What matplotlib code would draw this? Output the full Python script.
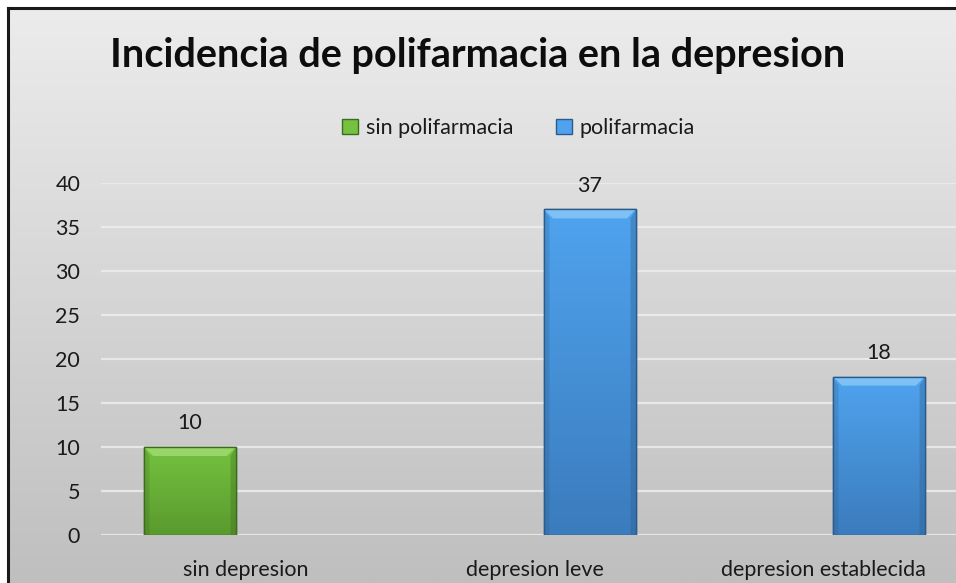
import numpy as np
import matplotlib
matplotlib.use("Agg")
import matplotlib.pyplot as plt
from matplotlib.patches import Patch, Polygon
from matplotlib.lines import Line2D
from matplotlib.colors import LinearSegmentedColormap

# ---- data ----
categories = ["sin depresion", "depresion leve", "depresion establecida"]
series_names = ["sin polifarmacia", "polifarmacia"]
sin_polifarmacia = [10, 0, 0]
polifarmacia = [0, 37, 18]
yticks = [0, 5, 10, 15, 20, 25, 30, 35, 40]
title = "Incidencia de polifarmacia en la depresion"

FONT = ["Lato", "DejaVu Sans"]
plt.rcParams["font.family"] = FONT
FS = 15.5

W, H, DPI = 956, 583, 100
fig = plt.figure(figsize=(W / DPI, H / DPI), dpi=DPI)
fig.patch.set_facecolor("white")

# background gradient (chart area)
bg = fig.add_axes([0, 0, 1, 1], zorder=0)
bg.axis("off")
grad = np.linspace(0, 1, 256).reshape(-1, 1)
bgcmap = LinearSegmentedColormap.from_list("bg", ["#ececec", "#bfbfbf"])
bx0, by1 = 8 / W, 1 - 8 / H
bg.imshow(grad, aspect="auto", cmap=bgcmap, extent=[bx0, 1, 0, by1],
          transform=bg.transAxes)
bg.set_xlim(0, 1); bg.set_ylim(0, 1)
# border (top & left visible, right/bottom cropped)
fig.add_artist(Line2D([bx0, 1], [by1, by1], color="#1a1a1a", lw=2.2,
                      transform=fig.transFigure, zorder=5))
fig.add_artist(Line2D([bx0, bx0], [0, by1], color="#1a1a1a", lw=2.2,
                      transform=fig.transFigure, zorder=5))

# plot axes
left, right_px = 101, 968
ax = fig.add_axes([left / W, 48 / H, (right_px - left) / W, 352 / H], zorder=2)
ax.patch.set_alpha(0)
ax.set_xlim(-0.5, len(categories) - 0.5)
ax.set_ylim(0, 40)
for s in ax.spines.values():
    s.set_visible(False)
ax.set_yticks(yticks)
ax.set_yticklabels([str(v) for v in yticks])
ax.yaxis.grid(True, color="#ededed", lw=1.6, alpha=0.85)
ax.set_axisbelow(True)
ax.set_xticks(range(len(categories)))
ax.set_xticklabels(categories)
ax.tick_params(axis="both", length=0, labelsize=FS, colors="#1a1a1a")
ax.tick_params(axis="y", pad=15)
ax.tick_params(axis="x", pad=18)

bw = 0.318
off = 0.192
x = np.arange(len(categories))

styles = [
    dict(top="#74c23f", bot="#5a9a2e", edge="#3d6b1f", hi="#a3dc74"),
    dict(top="#4fa3ee", bot="#3b7cbd", edge="#2c5b8a", hi="#8ccaf7"),
]

fig.canvas.draw()
inv = ax.transData.inverted()
p0 = inv.transform((0, 0))
p1 = inv.transform((9, 9))
dxb, dyb = p1[0] - p0[0], p1[1] - p0[1]

for si, (vals, st) in enumerate(zip([sin_polifarmacia, polifarmacia], styles)):
    xs = x + (-off if si == 0 else off)
    for xi, v in zip(xs, vals):
        if not v:
            continue
        rect = ax.bar(xi, v, width=bw, color=st["bot"], edgecolor=st["edge"],
                      linewidth=1.0, zorder=3)[0]
        cm = LinearSegmentedColormap.from_list("g", [st["bot"], st["top"]])
        im = ax.imshow(np.linspace(0, 1, 128).reshape(-1, 1), cmap=cm, aspect="auto",
                       extent=[xi - bw / 2, xi + bw / 2, 0, v], origin="lower",
                       zorder=3.1)
        im.set_clip_path(rect)
        # top bevel highlight
        l, r = xi - bw / 2, xi + bw / 2
        ax.add_patch(Polygon([[l, v], [r, v], [r - dxb, v - dyb], [l + dxb, v - dyb]],
                             closed=True, facecolor=st["hi"], edgecolor="none",
                             alpha=0.8, zorder=3.2))
        # side bevels (darker)
        ax.add_patch(Polygon([[l, v], [l + dxb * 0.6, v - dyb], [l + dxb * 0.6, 0], [l, 0]],
                             closed=True, facecolor=st["edge"], edgecolor="none",
                             alpha=0.25, zorder=3.2))
        ax.add_patch(Polygon([[r, v], [r - dxb * 0.6, v - dyb], [r - dxb * 0.6, 0], [r, 0]],
                             closed=True, facecolor=st["edge"], edgecolor="none",
                             alpha=0.35, zorder=3.2))
        ax.add_patch(Polygon([[l, v], [r, v], [r, 0], [l, 0]], closed=True,
                             facecolor="none", edgecolor=st["edge"], lw=1.0, zorder=3.3))
        ax.annotate(str(v), (xi, v), xytext=(0, 10), textcoords="offset points",
                    ha="center", va="bottom", fontsize=FS, color="#1a1a1a", zorder=4)

# title
fig.text(0.5, 1 - 56 / H, title, ha="center", va="center", fontsize=28.5,
         fontweight="bold", color="#0d0d0d")

# legend
handles = [Patch(facecolor=styles[0]["top"], edgecolor=styles[0]["edge"]),
           Patch(facecolor=styles[1]["top"], edgecolor=styles[1]["edge"])]
leg = fig.legend(handles, series_names, loc="center",
                 bbox_to_anchor=(518.5 / W, 1 - 128 / H), ncol=2, frameon=False,
                 fontsize=FS, handlelength=0.75, handleheight=0.75,
                 handletextpad=0.35, columnspacing=2.0, borderpad=0)
for t in leg.get_texts():
    t.set_color("#1a1a1a")

fig.savefig("out.png", dpi=DPI, facecolor=fig.get_facecolor())
